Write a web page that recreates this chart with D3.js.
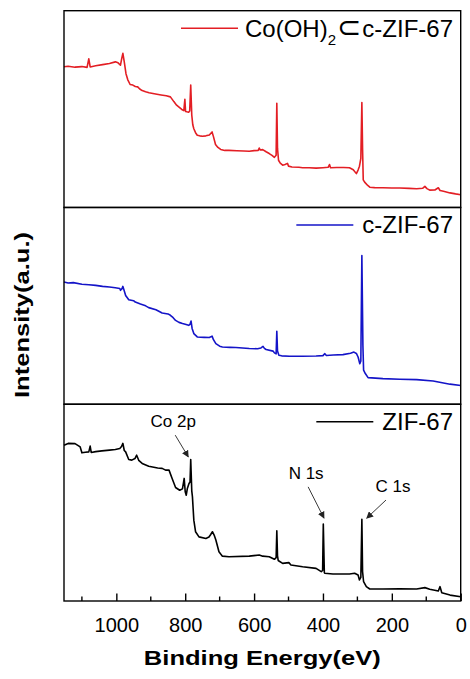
<!DOCTYPE html>
<html>
<head>
<meta charset="utf-8">
<style>
    body { margin: 0; background: white; }
    svg { display: block; font-family: Arial, "Liberation Sans", sans-serif; }
    .axis text { font-size: 20px; fill: #000; }
</style>
</head>
<body>
<svg width="470" height="679"></svg>

<script src="https://d3js.org/d3.v7.min.js"></script>
<script>
    // binding energy (eV), intensity (a.u., % of panel height)
    let redSeries = [
        [1152, 71.5], [1140, 71.8], [1120, 71.3], [1100, 71.6], [1085, 71.2], [1080, 75.5], [1076, 71.4],
        [1060, 72.0], [1040, 72.6], [1020, 73.2], [1003, 74.0], [995, 73.5], [988, 72.3], [984, 76.0],
        [981, 78.3], [977, 74.0], [972, 68.0], [967, 65.0], [960, 62.5], [952, 62.2], [945, 61.5],
        [938, 61.3], [932, 60.2], [925, 59.4], [915, 58.8], [905, 58.3], [890, 57.8], [870, 57.2],
        [855, 56.8], [843, 56.2], [833, 53.8], [825, 52.0], [818, 51.0], [810, 49.8], [804, 49.2],
        [801, 55.0], [799, 48.8], [795, 48.6], [790, 48.4], [787, 49.0], [784, 62.2], [781, 47.0],
        [778, 42.0], [775, 40.0], [770, 38.0], [765, 36.7], [758, 36.4], [750, 36.2], [740, 36.4],
        [730, 36.8], [722, 38.4], [718, 36.0], [712, 32.0], [705, 30.5], [697, 29.5], [685, 29.0],
        [673, 29.0], [650, 28.8], [630, 28.7], [614, 28.6], [600, 28.9], [588, 29.0], [585, 30.2],
        [582, 29.2], [575, 29.4], [565, 28.3], [556, 27.4], [548, 26.5], [541, 25.5], [536, 26.5],
        [534, 53.0], [532, 30.0], [529, 24.0], [524, 22.5], [517, 21.5], [510, 21.8], [503, 22.4],
        [500, 21.0], [490, 20.6], [470, 20.4], [459, 20.2], [440, 20.2], [420, 20.0], [400, 20.2],
        [385, 20.4], [381, 21.8], [378, 20.2], [360, 20.3], [340, 20.3], [323, 20.2], [312, 19.2],
        [303, 17.2], [298, 19.0], [294, 21.0], [290, 25.0], [287, 53.3], [285, 30.0], [283, 14.0],
        [279, 12.9], [270, 11.2], [264, 10.3], [250, 10.1], [226, 10.0], [200, 9.9], [177, 9.9],
        [150, 9.7], [128, 9.5], [110, 9.8], [104, 10.7], [98, 9.6], [90, 8.8], [75, 8.9], [65, 10.0],
        [60, 8.6], [50, 8.2], [31, 7.4], [15, 6.9], [0, 6.5]
    ]

    let blueSeries = [
        [1152, 62.1], [1140, 61.6], [1125, 61.8], [1100, 61.0], [1080, 60.7], [1060, 60.4], [1040, 59.9],
        [1020, 59.6], [1003, 59.2], [990, 58.8], [988, 57.9], [984, 58.6], [981, 59.9], [978, 58.2],
        [973, 55.3], [964, 53.1], [950, 52.6], [945, 51.9], [930, 50.9], [915, 50.0], [906, 49.1],
        [885, 48.0], [867, 46.4], [850, 45.9], [843, 45.2], [835, 44.0], [828, 42.6], [818, 41.6],
        [808, 41.0], [800, 40.6], [790, 40.1], [786, 40.6], [783, 42.3], [780, 38.5], [775, 35.9],
        [765, 34.2], [745, 34.0], [730, 33.9], [722, 34.6], [718, 32.8], [711, 30.8], [700, 29.5],
        [692, 29.1], [670, 28.9], [653, 28.8], [614, 28.3], [590, 28.2], [580, 28.6], [574, 29.4],
        [570, 28.4], [565, 27.8], [545, 27.0], [541, 26.1], [536, 25.6], [534, 37.1], [532, 27.0],
        [528, 24.9], [520, 24.6], [497, 24.4], [460, 24.4], [420, 24.5], [400, 24.7], [395, 25.7],
        [390, 24.8], [370, 25.0], [342, 25.2], [320, 25.9], [310, 26.5], [303, 25.8], [298, 24.0],
        [293, 20.6], [290, 22.0], [287, 75.6], [284, 30.0], [282, 17.3], [277, 15.6], [269, 13.5],
        [226, 13.0], [177, 12.7], [128, 12.5], [80, 11.8], [50, 10.8], [31, 10.2], [0, 9.5]
    ]

    let blackSeries = [
        [1152, 79.2], [1140, 80.1], [1120, 80.0], [1105, 78.3], [1100, 75.3], [1090, 75.6], [1080, 75.8],
        [1076, 78.7], [1073, 75.5], [1060, 75.9], [1042, 76.3], [1020, 76.7], [1003, 77.0], [990, 77.5],
        [985, 78.5], [981, 80.1], [977, 76.5], [973, 75.8], [964, 71.9], [955, 71.6], [946, 72.4],
        [941, 74.1], [935, 71.5], [925, 69.9], [906, 68.5], [880, 67.6], [867, 67.4], [857, 66.5],
        [847, 66.5], [838, 62.3], [828, 57.7], [816, 56.3], [808, 57.0], [803, 62.3], [800, 55.5],
        [797, 53.8], [794, 57.0], [789, 59.7], [786, 60.5], [784, 71.9], [781, 56.0], [779, 52.9],
        [775, 41.1], [770, 35.2], [760, 32.6], [740, 31.8], [731, 32.5], [726, 33.8], [721, 35.2],
        [716, 33.5], [711, 31.0], [702, 25.0], [692, 22.8], [673, 22.5], [614, 22.8], [585, 23.4],
        [575, 22.8], [556, 22.5], [541, 21.2], [536, 22.0], [534, 35.7], [532, 23.0], [530, 20.6],
        [517, 19.1], [499, 19.5], [493, 18.3], [459, 17.4], [420, 16.6], [405, 14.9], [401, 15.5],
        [399, 39.1], [396, 14.5], [395, 14.1], [371, 13.7], [323, 13.7], [308, 14.1], [298, 13.2],
        [294, 10.7], [290, 12.0], [287, 41.5], [285, 15.0], [282, 9.8], [274, 7.3], [264, 6.1],
        [226, 6.1], [177, 6.2], [128, 6.1], [104, 6.8], [90, 6.0], [65, 5.1], [60, 7.3], [55, 4.2],
        [31, 3.0], [0, 2.2]
    ]

    let seriesNames = ["Co(OH)", "c-ZIF-67", "ZIF-67"]
    let seriesColors = ["#e31e24", "#1414c8", "#000000"]

    let majorTicks = [1000, 800, 600, 400, 200, 0]
    let minorTicks = [1100, 900, 700, 500, 300, 100]

    // peak labels: [label, tip eV, tip intensity, tail eV, tail intensity]
    let peakLabels = [
        ["Co 2p", 791, 73.2, 829, 84.3],
        ["N 1s", 397, 42.1, 443, 58.0],
        ["C 1s", 273, 42.1, 217, 51.3]
    ]

    let svg = d3.select("svg")
    let margin = { top: 10.7, right: 9.3, bottom: 78, left: 64 }
    let width = 470 - margin.left - margin.right
    let height = 679 - margin.top - margin.bottom
    let panelH = height / 3

    let x = d3.scaleLinear()
        .domain([1152, 0])
        .range([margin.left, margin.left + width])

    let y = d3.scaleLinear()
        .domain([0, 100])
        .range([panelH, 0])

    let line = d3.line()
        .x(d => x(d[0]))
        .y(d => y(d[1]))

    let allSeries = [redSeries, blueSeries, blackSeries]

    svg.append("defs").append("marker")
        .attr("id", "arrow")
        .attr("viewBox", "0 0 10 10")
        .attr("refX", 9)
        .attr("refY", 5)
        .attr("markerWidth", 7)
        .attr("markerHeight", 7)
        .attr("markerUnits", "userSpaceOnUse")
        .attr("orient", "auto")
        .append("path")
        .attr("d", "M0,0 L10,5 L0,10 Z")
        .style("fill", "#222")

    allSeries.forEach(function (data, i) {
        let g = svg.append("g")
            .attr("transform", `translate(0,${margin.top + i * panelH})`)

        g.append("path")
            .datum(data)
            .attr("d", line)
            .style("fill", "none")
            .style("stroke", seriesColors[i])
            .style("stroke-width", 1.6)
            .style("stroke-linejoin", "round")

        // frame
        g.append("rect")
            .attr("x", margin.left)
            .attr("y", 0)
            .attr("width", width)
            .attr("height", panelH)
            .style("fill", "none")
            .style("stroke", "#000")
            .style("stroke-width", 1.4)

        // legend
        let legendY = 17.5
        let legend = g.append("text")
            .attr("x", 453)
            .attr("y", legendY + 8.5)
            .attr("text-anchor", "end")
            .style("font-size", "24px")
            .style("fill", "#000")

        if (i == 0) {
            legend.append("tspan").text(seriesNames[i])
            legend.append("tspan").attr("dy", 8).style("font-size", "15px").text("2")
            legend.append("tspan").attr("dy", -8).attr("dx", 1).style("font-size", "29px")
                .style("font-family", "'DejaVu Sans'").text("\u2282")
            legend.append("tspan").attr("dx", 1).text("c-ZIF-67")
        } else {
            legend.text(seriesNames[i])
        }

        let textW = legend.node().getComputedTextLength()
        g.append("line")
            .attr("x1", 453 - textW - 66)
            .attr("x2", 453 - textW - 9)
            .attr("y1", legendY)
            .attr("y2", legendY)
            .style("stroke", seriesColors[i])
            .style("stroke-width", 1.6)

        // peak annotations on the bottom panel
        if (i == 2) {
            peakLabels.forEach(function (p) {
                g.append("line")
                    .attr("x1", x(p[3]))
                    .attr("y1", y(p[4]))
                    .attr("x2", x(p[1]))
                    .attr("y2", y(p[2]))
                    .style("stroke", "#222")
                    .style("stroke-width", 0.9)
                    .attr("marker-end", "url(#arrow)")

                let dx = p[3] > p[1] ? -2 : 7
                g.append("text")
                    .attr("x", x(p[3]) + dx)
                    .attr("y", y(p[4]) - 8)
                    .attr("text-anchor", "middle")
                    .style("font-size", "17px")
                    .style("fill", "#000")
                    .text(p[0])
            })
        }
    })

    // x axis with inward ticks
    let xAxisSettings = d3.axisBottom(x)
        .tickValues(majorTicks)
        .tickSize(-7.5)
        .tickPadding(17)
        .tickFormat(d3.format("d"))

    svg.append("g")
        .attr("class", "x axis")
        .attr("transform", `translate(0,${margin.top + height})`)
        .call(xAxisSettings)
        .call(g => g.select(".domain").remove())
        .call(g => g.selectAll(".tick line").style("stroke", "#000").style("stroke-width", 1.4))

    svg.append("g")
        .selectAll("line")
        .data(minorTicks)
        .join("line")
        .attr("x1", d => x(d))
        .attr("x2", d => x(d))
        .attr("y1", margin.top + height)
        .attr("y2", margin.top + height - 4.5)
        .style("stroke", "#000")
        .style("stroke-width", 1.4)

    svg.append("text")
        .attr("x", margin.left + width / 2)
        .attr("y", 665)
        .attr("text-anchor", "middle")
        .attr("textLength", 237)
        .attr("lengthAdjust", "spacingAndGlyphs")
        .style("font-size", "21px")
        .style("font-weight", "bold")
        .text("Binding Energy(eV)")

    svg.append("text")
        .attr("transform", "translate(29,315) rotate(-90)")
        .attr("text-anchor", "middle")
        .attr("textLength", 166)
        .attr("lengthAdjust", "spacingAndGlyphs")
        .style("font-size", "20px")
        .style("font-weight", "bold")
        .text("Intensity(a.u.)")
</script>
</body>
</html>
